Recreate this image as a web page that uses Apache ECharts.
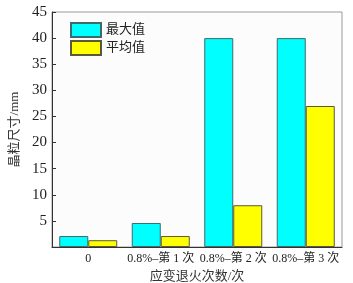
<!DOCTYPE html>
<html>
<head>
<meta charset="utf-8">
<script src="https://cdn.jsdelivr.net/npm/echarts@6/dist/echarts.min.js"></script>
<style>
html, body { margin: 0; padding: 0; background: #fff; }
#chart { width: 353px; height: 283px; }
</style>
</head>
<body>
<div id="chart"></div>
<script>
// 数据
var categories = ['0', '0.8%\u2013第 1 次', '0.8%\u2013第 2 次', '0.8%\u2013第 3 次'];
var maxValues = [2.1, 4.6, 40, 40];
var avgValues = [1.3, 2.1, 8, 27];
var seriesNames = ['最大值', '平均值'];

var font = '"Liberation Serif", "Noto Sans CJK SC", serif';

var myChart = echarts.init(document.getElementById('chart'));
var option = {
	animation: false,
	textStyle: { fontFamily: font },
	grid: {
		left: 52, right: 11, top: 12, bottom: 36,
		outerBoundsMode: 'none',
		containLabel: false,
		show: true,
		backgroundColor: '#fcfcfc',
		borderColor: '#999',
		borderWidth: 1
	},
	legend: {
		orient: 'vertical',
		left: 65, top: 17,
		icon: 'rect',
		itemWidth: 30, itemHeight: 14,
		itemGap: 2,
		textStyle: { fontFamily: font, fontSize: 13, color: '#222' },
		data: seriesNames
	},
	xAxis: {
		type: 'category',
		data: categories,
		name: '应变退火次数/次',
		nameLocation: 'middle',
		nameGap: 21,
		nameTextStyle: { fontFamily: font, fontSize: 13, color: '#333' },
		axisLine: { lineStyle: { color: '#333', width: 1 } },
		axisTick: { show: false },
		axisLabel: { fontFamily: font, fontSize: 12, color: '#222', margin: 6, interval: 0 }
	},
	yAxis: {
		type: 'value',
		min: 0, max: 45, interval: 5,
		name: '晶粒尺寸/mm',
		nameLocation: 'middle',
		nameRotate: 90,
		nameGap: 30,
		nameTextStyle: { fontFamily: font, fontSize: 13, color: '#333' },
		axisLine: { show: true, lineStyle: { color: '#333', width: 1 } },
		axisTick: { show: true, inside: true, length: 4, lineStyle: { color: '#333' } },
		splitLine: { show: false },
		axisLabel: {
			fontFamily: font, fontSize: 15, color: '#222', margin: 5,
			formatter: function (v) { return v === 0 ? '' : v; }
		}
	},
	series: [{
		name: seriesNames[0],
		type: 'bar',
		data: maxValues,
		barGap: '0%',
		barCategoryGap: '20%',
		itemStyle: { color: '#00ffff', borderColor: '#3d6b6b', borderWidth: 1 }
	}, {
		name: seriesNames[1],
		type: 'bar',
		data: avgValues,
		barGap: '0%',
		barCategoryGap: '20%',
		itemStyle: { color: '#ffff00', borderColor: '#5a5a3a', borderWidth: 1 }
	}]
};
myChart.setOption(option);
</script>
</body>
</html>
